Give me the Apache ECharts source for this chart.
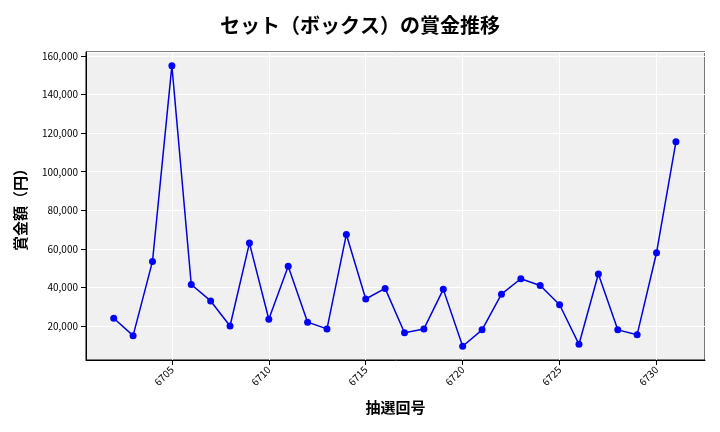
<!DOCTYPE html>
<html style="height: 100%">
  <head>
    <meta charset="utf-8" />
  </head>
  <body style="height: 100%; margin: 0">
    <div id="container" style="width: 720px; height: 432px"></div>
    <script src="https://cdn.jsdelivr.net/npm/echarts@6/dist/echarts.min.js"></script>
    <script type="text/javascript">
      var rounds = [];
      for (var r = 6702; r <= 6731; r++) rounds.push(r);
      var prizes = [
        24000, 15000, 53500, 155000, 41500, 33000, 20000, 63000, 23500, 51000,
        22000, 18500, 67500, 34000, 39500, 16500, 18500, 39000, 9500, 18000,
        36500, 44500, 41000, 31000, 10500, 47000, 18000, 15500, 58000, 115500
      ];
      var points = rounds.map(function (x, i) { return [x, prizes[i]]; });

      var font = "'Noto Sans CJK JP', sans-serif";
      var myChart = echarts.init(document.getElementById("container"));
      myChart.setOption({
        backgroundColor: "#fff",
        textStyle: { fontFamily: font },
        title: {
          text: "セット（ボックス）の賞金推移",
          left: "center",
          top: 10,
          textStyle: { fontSize: 20, fontWeight: "bold", color: "#000", fontFamily: font }
        },
        grid: {
          left: 86, right: 15, top: 52, bottom: 72,
          show: true, backgroundColor: "#f0f0f0", borderColor: "#000", borderWidth: 1
        },
        xAxis: {
          type: "value",
          min: 6700.57,
          max: 6732.5,
          splitNumber: 6,
          name: "抽選回号",
          nameLocation: "middle",
          nameGap: 40,
          nameTextStyle: { fontSize: 15, color: "#000", fontWeight: "bold" },
          axisLine: { lineStyle: { color: "#000" } },
          axisTick: { show: true },
          axisLabel: {
            rotate: 45, fontSize: 10, color: "#000", showMinLabel: false, showMaxLabel: false,
            formatter: function (v) { return String(v); }
          },
          splitLine: { show: true, lineStyle: { color: "#fff", width: 1 } }
        },
        yAxis: {
          type: "value",
          min: 2370,
          max: 162100,
          splitNumber: 8,
          name: "賞金額（円）",
          nameLocation: "middle",
          nameGap: 58,
          nameTextStyle: { fontSize: 15, color: "#000", fontWeight: "bold" },
          axisLine: { show: true, lineStyle: { color: "#000" } },
          axisTick: { show: true },
          axisLabel: {
            fontSize: 10, color: "#000", showMinLabel: false, showMaxLabel: false,
            formatter: function (v) { return v.toLocaleString("en-US"); }
          },
          splitLine: { show: true, lineStyle: { color: "#fff", width: 1 } }
        },
        series: [{
          type: "line",
          data: points,
          symbol: "circle",
          symbolSize: 7,
          lineStyle: { color: "#0000dd", width: 1.5 },
          itemStyle: { color: "#0000ff" }
        }]
      });
    </script>
  </body>
</html>
